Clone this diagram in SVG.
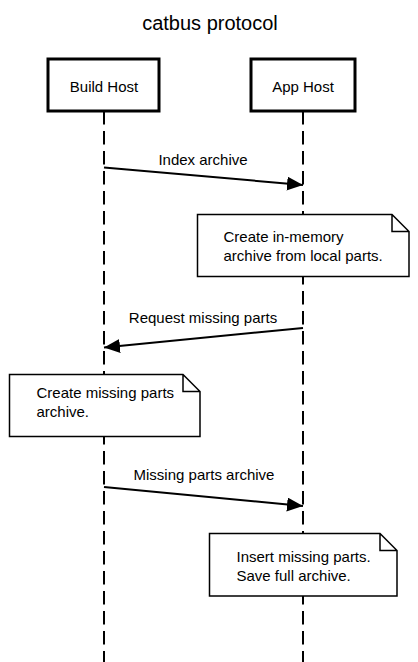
<svg xmlns="http://www.w3.org/2000/svg" width="418" height="662" viewBox="0 0 418 662">
<style>
text{font-family:"Liberation Sans",Arial,Helvetica,sans-serif;fill:#000}
.title{font-size:20px;text-anchor:middle}
.actor rect{fill:#fff;stroke:#000;stroke-width:3}
.actor text{font-size:15px;text-anchor:middle}
.life{stroke:#000;stroke-width:2;stroke-dasharray:13.5,6.5;fill:none}
.msg{stroke:#000;stroke-width:2;fill:none;marker-end:url(#ah)}
.lbl{font-size:15px;text-anchor:middle}
.note path{fill:#fff;stroke:#000;stroke-width:1.5}
.note text{font-size:15px}
</style>
<defs>
<marker id="ah" markerUnits="userSpaceOnUse" markerWidth="18" markerHeight="16" refX="16" refY="7" orient="auto">
<path d="M0,0 L16,7 L0,14 z" fill="#000"/>
</marker>
</defs>
<rect width="418" height="662" fill="#fff"/>
<text class="title" x="210" y="30">catbus protocol</text>
<g id="lifelines">
<line class="life" x1="104" y1="111" x2="104" y2="662"/>
<line class="life" x1="303" y1="111" x2="303" y2="662"/>
</g>
<g id="build-host" class="actor">
<rect x="48" y="59" width="111" height="52"/>
<text x="104" y="92">Build Host</text>
</g>
<g id="app-host" class="actor">
<rect x="251" y="59" width="104" height="52"/>
<text x="303" y="92">App Host</text>
</g>
<g id="connectors">
<line class="msg" x1="104" y1="167.5" x2="303" y2="185"/>
<text class="lbl" x="203" y="165">Index archive</text>
<line class="msg" x1="303" y1="328" x2="104" y2="347.5"/>
<text class="lbl" x="203" y="322.5">Request missing parts</text>
<line class="msg" x1="104" y1="487" x2="303" y2="506"/>
<text class="lbl" x="204" y="479.5">Missing parts archive</text>
</g>
<g id="note1" class="note">
<path d="M197.5,214.5 H392 L409,231.5 V276.5 H197.5 Z M392,214.5 V231.5 H409"/>
<text x="223.5" y="241.5">Create in-memory</text>
<text x="223.5" y="261">archive from local parts.</text>
</g>
<g id="note2" class="note">
<path d="M9.5,374.5 H183 L200,391.5 V436.5 H9.5 Z M183,374.5 V391.5 H200"/>
<text x="36.5" y="397.5">Create missing parts</text>
<text x="36.5" y="417">archive.</text>
</g>
<g id="note3" class="note">
<path d="M209.5,533.5 H380 L397,550.5 V596 H209.5 Z M380,533.5 V550.5 H397"/>
<text x="236.5" y="561.5">Insert missing parts.</text>
<text x="236.5" y="580.5">Save full archive.</text>
</g>
</svg>
